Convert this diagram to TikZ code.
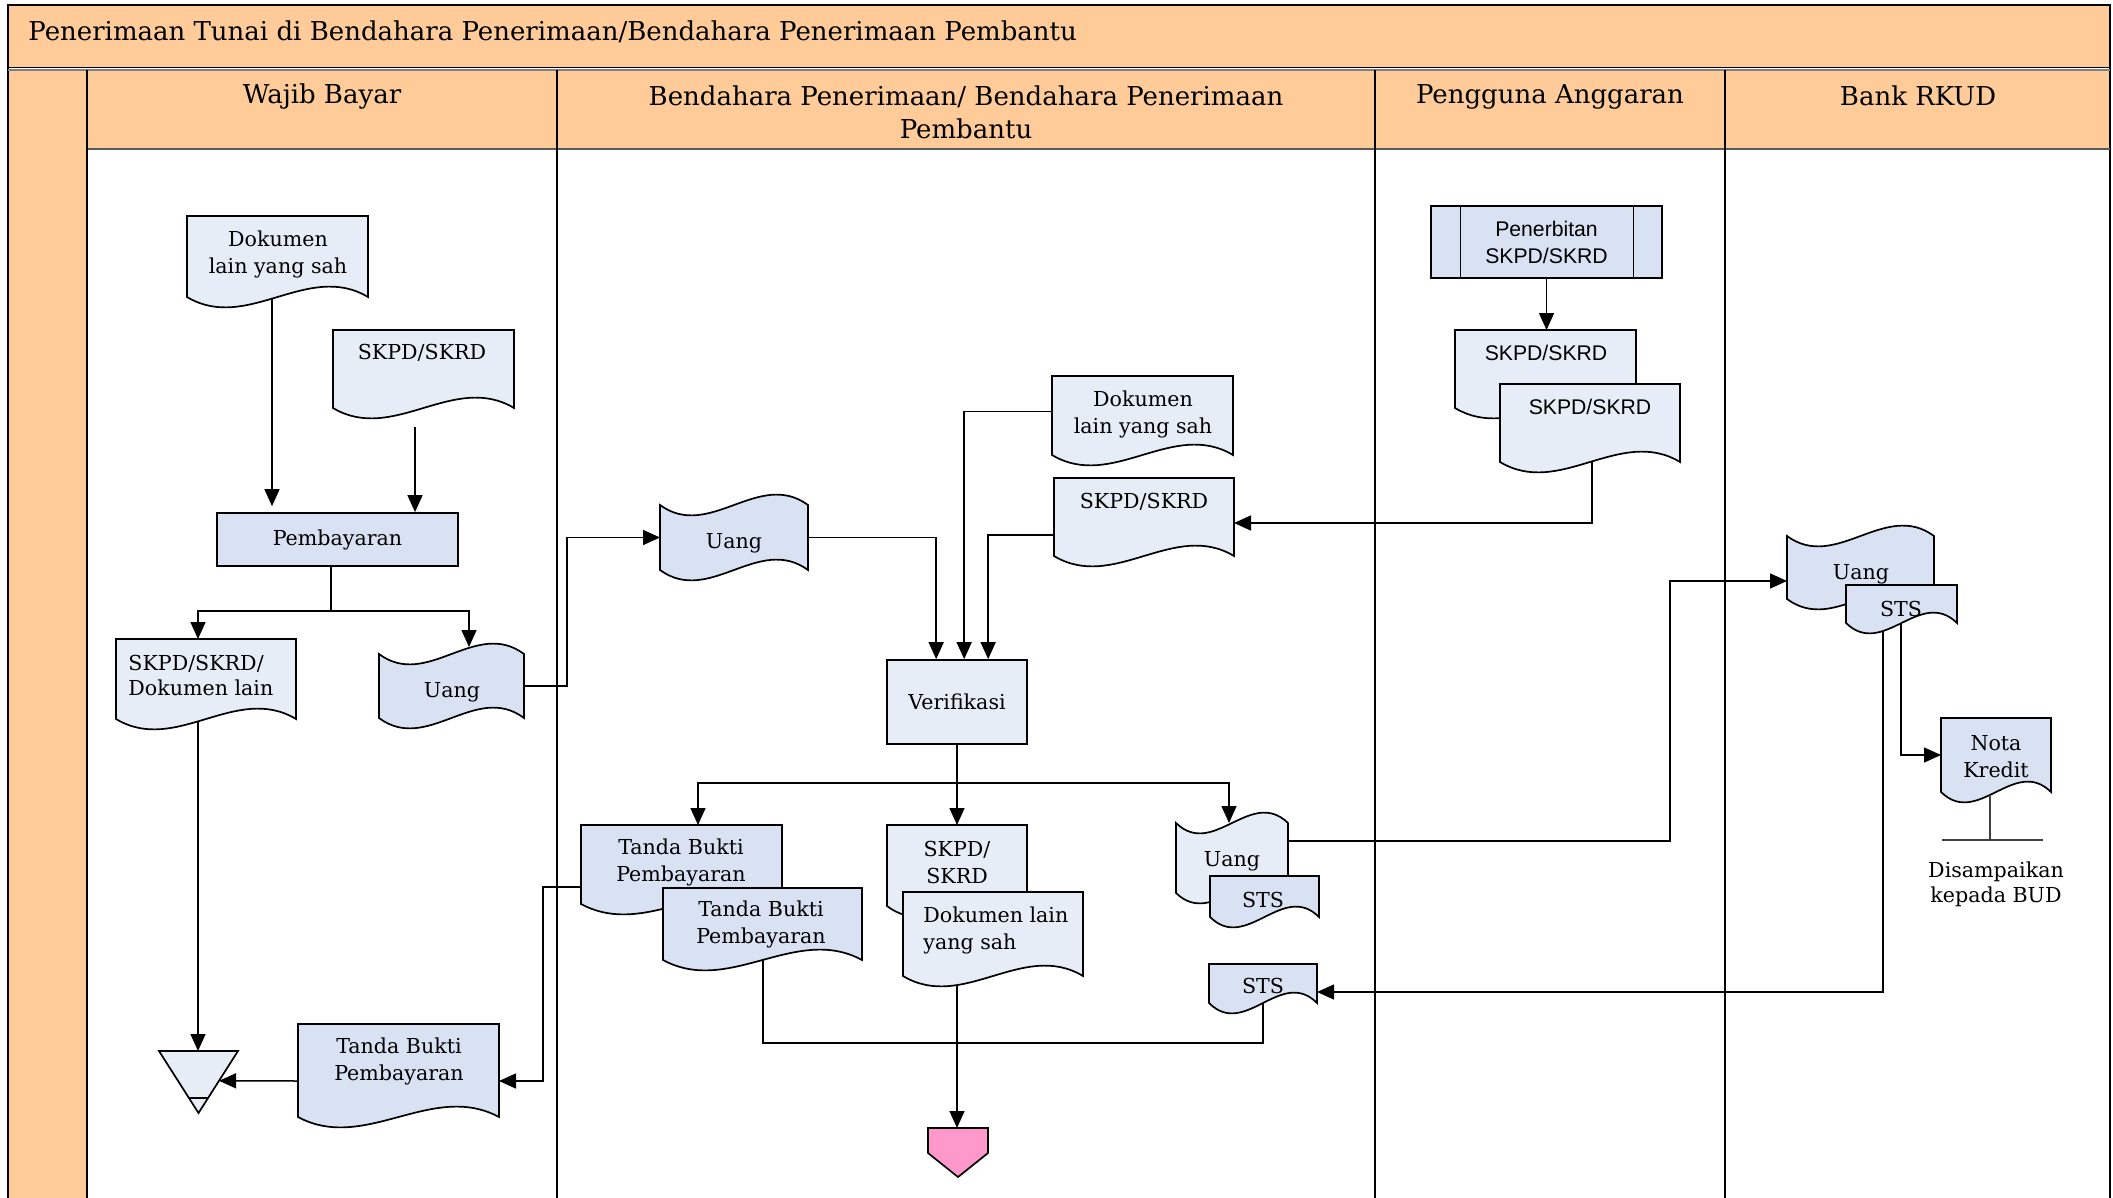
\documentclass[tikz,border=0pt]{standalone}
\usepackage{fontspec}
\setmainfont{DejaVu Serif}
\newfontfamily\lsans{Liberation Sans}
\usetikzlibrary{calc,arrows.meta}
\definecolor{peach}{RGB}{255,204,153}
\definecolor{lightfill}{RGB}{231,237,247}
\definecolor{darkfill}{RGB}{217,226,243}
\definecolor{pinkfill}{RGB}{255,153,204}
\newcommand\mybody{\fontsize{10.3}{13.5}\selectfont}
\newcommand\mybodytight{\fontsize{10.3}{12.5}\selectfont}
\newcommand\myhdr{\fontsize{13}{16.5}\selectfont}
\newcommand\mysans{\lsans\fontsize{10.6}{13.5}\selectfont}
\tikzset{
  shp/.style={draw=black, line width=0.85pt},
  box/.style={rectangle, inner sep=0pt, outer sep=0pt, draw=none},
  lbl/.style={inner sep=0pt, align=center, font=\mybody},
  arr/.style={line width=0.75pt, -{Triangle[length=8.5pt,width=7.5pt]}},
  con/.style={line width=0.75pt},
  lane/.style={line width=0.55pt},
}
% document symbol: name, x0, y0, width, height (to wave ends), fill
\newcommand\docshape[6]{%
  \filldraw[shp, fill=#6] (#2,#3) -- ({#2+#4},#3) -- ({#2+#4},{#3+#5})
    .. controls ({#2+#4*2/3},{#3+#5-36}) and ({#2+#4/3},{#3+#5+36}) .. (#2,{#3+#5}) -- cycle;
  \node[box, minimum width={#4*0.5pt}, minimum height={#5*0.5pt}, anchor=north west] (#1) at (#2,#3) {};
}
% tape symbol: name, x0, y0 (top wave ends), width, height, fill
\newcommand\tapeshape[6]{%
  \filldraw[shp, fill=#6] (#2,#3)
    .. controls ({#2+#4/3},{#3+36}) and ({#2+#4*2/3},{#3-36}) .. ({#2+#4},#3)
    -- ({#2+#4},{#3+#5})
    .. controls ({#2+#4*2/3},{#3+#5-36}) and ({#2+#4/3},{#3+#5+36}) .. (#2,{#3+#5}) -- cycle;
  \node[box, minimum width={#4*0.5pt}, minimum height={#5*0.5pt}, anchor=north west] (#1) at (#2,#3) {};
}
\begin{document}
\begin{tikzpicture}[x=0.5pt,y=-0.5pt]
\useasboundingbox (0,0) rectangle (2113,1198);
% ---------- frame ----------
\fill[peach] (8,5) rectangle (2110,68);
\fill[peach] (8,69) rectangle (87,1198);
\fill[peach] (87,69) rectangle (2110,149);
\draw[line width=0.7pt] (8,1198) -- (8,5) -- (2110,5) -- (2110,1198);
\draw[line width=0.7pt] (8,67.5) -- (2110,67.5);
\draw[gray, line width=0.8pt] (8,70) -- (2110,70);
\draw[gray!70!black, line width=1pt] (87,149) -- (2110,149);
\draw[lane] (87,70) -- (87,1198);
\draw[lane] (557,70) -- (557,1198);
\draw[lane] (1375,70) -- (1375,1198);
\draw[lane] (1725,70) -- (1725,1198);
\node[anchor=west, inner sep=0pt, font=\myhdr] (title) at (28,32) {Penerimaan Tunai di Bendahara Penerimaan/Bendahara Penerimaan Pembantu};
\node[inner sep=0pt, font=\myhdr] (hWB) at (322,97) {Wajib Bayar};
\node[inner sep=0pt, font=\myhdr, align=center] (hBP) at (966,112) {Bendahara Penerimaan/ Bendahara Penerimaan\\Pembantu};
\node[inner sep=0pt, font=\myhdr] (hPA) at (1550,97) {Pengguna Anggaran};
\node[inner sep=0pt, font=\myhdr] (hBR) at (1918,96) {Bank RKUD};

% ---------- Wajib Bayar ----------
\docshape{dokA}{187}{216}{181}{81}{lightfill}
\node[lbl] (dokAt) at (278,254) {Dokumen\\lain yang sah};
\docshape{skpdA}{333}{330}{181}{78}{lightfill}
\node[lbl] (skpdAt) at (422,353) {SKPD/SKRD};
\node[shp, fill=darkfill, rectangle, minimum width=120.5pt, minimum height=26.5pt, inner sep=0pt, font=\mybody] (pemb) at (337.5,539.5) {Pembayaran};
\docshape{skpdB}{116}{639}{180}{80}{lightfill}
\node[lbl, align=left, anchor=west, font=\mybodytight] (skpdBt) at (128,675.5) {SKPD/SKRD/\\Dokumen lain};
\tapeshape{uangA}{379}{654}{145}{64}{darkfill}
\node[lbl] (uangAt) at (452,692) {Uang};
\node[box, minimum width=39.5pt, minimum height=31pt] (tri) at (198.5,1082) {};
\filldraw[shp, fill=lightfill] (tri.north west) -- (tri.north east) -- (tri.south) -- cycle;
\draw[shp] ($(tri.south)+(-9.6,-15)$) -- ($(tri.south)+(9.6,-15)$);
\docshape{tbpA}{298}{1024}{201}{93}{darkfill}
\node[lbl] (tbpAt) at (399,1061) {Tanda Bukti\\Pembayaran};

% ---------- Bendahara ----------
\tapeshape{uangB}{660}{505}{148}{65}{darkfill}
\node[lbl] (uangBt) at (734,543) {Uang};
\docshape{dokB}{1052}{376}{181}{79}{lightfill}
\node[lbl] (dokBt) at (1143,414.5) {Dokumen\\lain yang sah};
\docshape{skpdC}{1054}{478}{180}{78}{lightfill}
\node[lbl] (skpdCt) at (1144,502) {SKPD/SKRD};
\node[shp, fill=lightfill, rectangle, minimum width=70pt, minimum height=42pt, inner sep=0pt, font=\mybody] (verif) at (957,702) {Verifikasi};
\docshape{tbpB}{581}{825}{201}{79}{darkfill}
\node[lbl] (tbpBt) at (681,862.5) {Tanda Bukti\\Pembayaran};
\docshape{tbpC}{663}{888}{199}{72}{darkfill}
\node[lbl] (tbpCt) at (761,924.5) {Tanda Bukti\\Pembayaran};
\docshape{skpdD}{887}{825}{140}{81}{lightfill}
\node[lbl] (skpdDt) at (957,862.5) {SKPD/\\SKRD};
\docshape{dokC}{903}{892}{180}{84}{lightfill}
\node[lbl, align=left, anchor=west] (dokCt) at (923,930.5) {Dokumen lain\\yang sah};
\tapeshape{uangC}{1176}{823}{112}{70}{lightfill}
\node[lbl] (uangCt) at (1232,861) {Uang};
\docshape{stsA}{1210}{876}{109}{41}{darkfill}
\node[lbl] (stsAt) at (1263,900) {STS};
\docshape{stsB}{1209}{964}{108}{39}{darkfill}
\node[lbl] (stsBt) at (1263,986) {STS};
\node[box, minimum width=30pt, minimum height=24.5pt] (pink) at (958,1152.5) {};
\filldraw[shp, fill=pinkfill] (pink.north west) -- (pink.north east) -- ($(pink.north east)+(0,25)$) -- (pink.south) -- ($(pink.north west)+(0,25)$) -- cycle;

% ---------- Pengguna Anggaran ----------
\node[shp, fill=darkfill, rectangle, minimum width=115.5pt, minimum height=36pt, inner sep=0pt, font=\mysans, align=center] (penerb) at (1546.5,242) {Penerbitan\\SKPD/SKRD};
\draw[line width=0.5pt] ($(penerb.north west)+(30,0)$) -- ($(penerb.south west)+(30,0)$);
\draw[line width=0.5pt] ($(penerb.north east)+(-29,0)$) -- ($(penerb.south east)+(-29,0)$);
\docshape{skpdE}{1455}{330}{181}{78}{lightfill}
\node[lbl, font=\mysans] (skpdEt) at (1546,353) {SKPD/SKRD};
\docshape{skpdF}{1500}{384}{180}{78}{lightfill}
\node[lbl, font=\mysans] (skpdFt) at (1590,407) {SKPD/SKRD};

% ---------- Bank RKUD ----------
\tapeshape{uangD}{1787}{536}{147}{63}{darkfill}
\node[lbl] (uangDt) at (1861,574) {Uang};
\docshape{stsC}{1846}{585}{111}{38}{darkfill}
\node[lbl] (stsCt) at (1901,609) {STS};
\docshape{nota}{1941}{718}{110}{74}{darkfill}
\node[lbl] (notat) at (1996,757) {Nota\\Kredit};
\coordinate (anno) at (1990,840);
\coordinate (annoL) at (1942,840);
\coordinate (annoR) at (2043,840);
\draw[line width=0.6pt, black!75] ($(nota.south west)+(49,3)$) -- (anno);
\draw[line width=0.6pt, black!75] (annoL) -- (annoR);
\node[lbl, font=\mybodytight] (bud) at (1996,884.5) {Disampaikan\\kepada BUD};

% ---------- connectors ----------
\draw[arr, shorten >=3pt] ($(dokA.south west)+(85,2)$) coordinate (c1) -- (c1 |- pemb.north);
\draw[arr] ($(skpdA.south west)+(82,19)$) coordinate (c2) -- (c2 |- pemb.north);
\coordinate (sp1) at ($(pemb.south)+(-6.5,44)$);
\draw[con, line width=1.2pt] (pemb.south -| sp1) -- (sp1);
\draw[arr] (sp1) -| ($(skpdB.north west)+(82,0)$);
\draw[arr] (sp1) -| ($(uangA.north west)+(90,-7)$);
\draw[arr] ($(skpdB.south west)+(82,2)$) coordinate (c3) -- (c3 |- tri.north);
\draw[arr] (uangA.east) -- ++(43,0) |- (uangB.west);
\draw[arr] (uangB.east) -| ($(verif.north west)+(50,0)$);
\draw[arr] ($(dokB.west)+(0,-4)$) -| ($(verif.north west)+(78,0)$);
\draw[arr] ($(skpdC.west)+(0,18)$) -| ($(verif.north west)+(102,0)$);
\draw[arr] ($(skpdF.south west)+(92,0)$) |- ($(skpdC.east)+(0,6)$);
\draw[arr] (penerb.south) -- (penerb.south |- skpdE.north);
\coordinate (sp2) at ($(verif.south)+(0,38)$);
\draw[con] (verif.south) -- (sp2);
\draw[arr] (sp2) -| ($(tbpB.north west)+(117,0)$);
\draw[arr] (sp2) -- (sp2 |- skpdD.north);
\draw[arr] (sp2) -| ($(uangC.north west)+(53,0)$);
\draw[arr] ($(tbpB.west)+(0,22.5)$) -- ++(-38,0) |- ($(tbpA.east)+(0,10.5)$);
\draw[arr] ($(tbpA.west)+(0,10.5)$) -- ($(tri.north east)!0.48!(tri.south)$);
\draw[arr] ($(uangC.east)+(0,-17)$) -- ++(382,0) |- ($(uangD.west)+(0,13.5)$);
\draw[arr] ($(stsC.south west)+(37,8)$) |- ($(stsB.east)+(0,8.5)$);
\draw[arr] ($(stsC.south west)+(55,0)$) |- (nota.west);
\draw[con] ($(tbpC.south west)+(100,0)$) -- ++(0,83) -| (stsB.south);
\draw[arr] ($(dokC.south west)+(54,9)$) coordinate (c17) -- (c17 |- pink.north);
\end{tikzpicture}
\end{document}
